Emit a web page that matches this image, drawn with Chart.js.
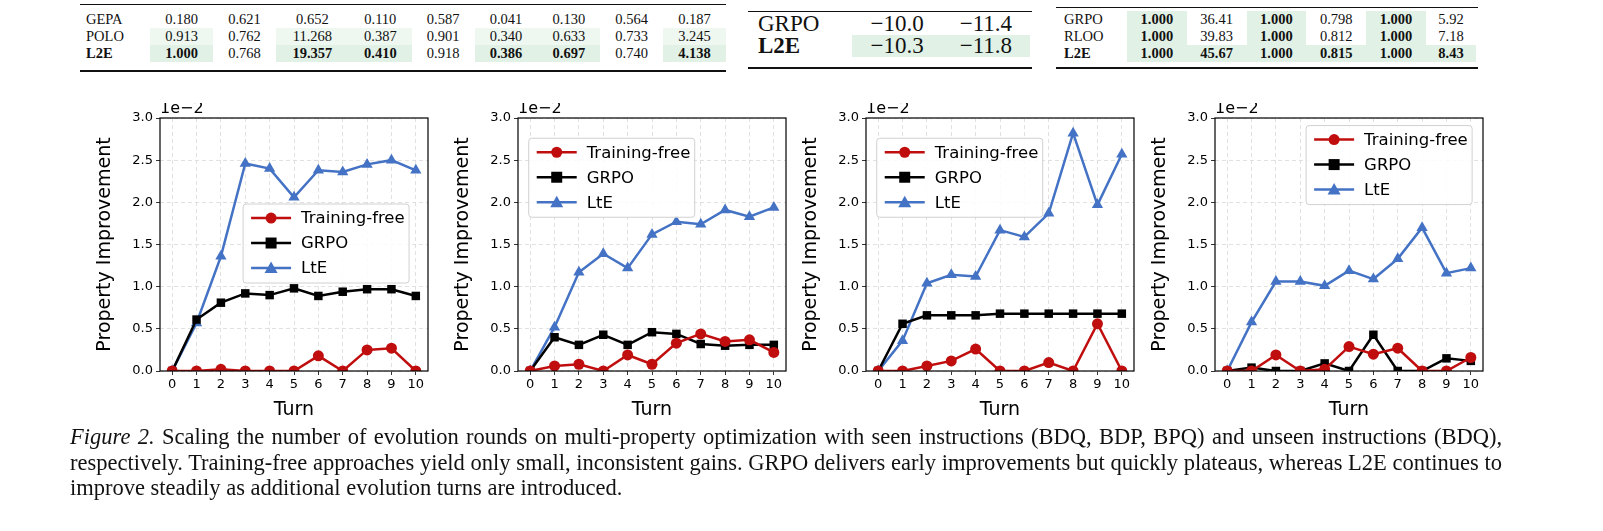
<!DOCTYPE html>
<html>
<head>
<meta charset="utf-8">
<script src="https://cdn.jsdelivr.net/npm/chart.js@4.4.1/dist/chart.umd.min.js"></script>
<style>
  body { margin:0; width:1603px; height:531px; background:#fff; position:relative; overflow:hidden; font-family:"Liberation Serif", serif; }
  .tbl { position:absolute; border-collapse:collapse; font-size:14.5px; color:#111; }
  .tbl td { padding:0 6px; text-align:center; line-height:17px; }
  .tbl td:first-child { text-align:left; }
  .hl { background:#e2f1e6; }
  .hl2 { background:#eef7f0; }
  .b { font-weight:bold; }
  .rule { position:absolute; background:#111; }
  .cv { position:absolute; }
  #caption { position:absolute; left:70px; top:424px; width:1432px; font-size:22.5px; line-height:25.5px; text-align:justify; color:#111; }
</style>
</head>
<body>
<!-- top tables (cropped from the page above) -->
<div class="rule" style="left:80px;top:4px;width:646px;height:1px"></div>
<table class="tbl" style="left:80px;top:11px;width:646px">
  <tr><td>GEPA</td><td>0.180</td><td>0.621</td><td>0.652</td><td>0.110</td><td>0.587</td><td>0.041</td><td>0.130</td><td>0.564</td><td>0.187</td></tr>
  <tr><td>POLO</td><td class="hl2">0.913</td><td>0.762</td><td class="hl2">11.268</td><td class="hl2">0.387</td><td>0.901</td><td class="hl2">0.340</td><td class="hl2">0.633</td><td>0.733</td><td class="hl2">3.245</td></tr>
  <tr><td class="b">L2E</td><td class="hl b">1.000</td><td>0.768</td><td class="hl b">19.357</td><td class="hl b">0.410</td><td>0.918</td><td class="hl b">0.386</td><td class="hl b">0.697</td><td>0.740</td><td class="hl b">4.138</td></tr>
</table>
<div class="rule" style="left:80px;top:70px;width:646px;height:2px"></div>

<div class="rule" style="left:748px;top:11px;width:284px;height:1px"></div>
<table class="tbl" style="left:752px;top:13px;width:278px;font-size:23px">
  <tr><td style="line-height:22px">GRPO</td><td style="line-height:22px">&minus;10.0</td><td style="line-height:22px">&minus;11.4</td></tr>
  <tr><td class="b" style="line-height:22px">L2E</td><td class="hl" style="line-height:22px">&minus;10.3</td><td class="hl" style="line-height:22px">&minus;11.8</td></tr>
</table>
<div class="rule" style="left:748px;top:67px;width:284px;height:2px"></div>

<div class="rule" style="left:1056px;top:7px;width:422px;height:1px"></div>
<table class="tbl" style="left:1058px;top:11px;width:418px">
  <tr><td>GRPO</td><td class="hl b">1.000</td><td>36.41</td><td class="hl b">1.000</td><td>0.798</td><td class="hl b">1.000</td><td>5.92</td></tr>
  <tr><td>RLOO</td><td class="hl b">1.000</td><td>39.83</td><td class="hl b">1.000</td><td>0.812</td><td class="hl b">1.000</td><td>7.18</td></tr>
  <tr><td class="b">L2E</td><td class="hl b">1.000</td><td class="hl b">45.67</td><td class="hl b">1.000</td><td class="hl b">0.815</td><td class="hl b">1.000</td><td class="hl b">8.43</td></tr>
</table>
<div class="rule" style="left:1056px;top:67px;width:422px;height:2px"></div>

<canvas id="c0" class="cv" style="left:90px;top:103px" width="345" height="322"></canvas>
<canvas id="c1" class="cv" style="left:448px;top:103px" width="345" height="322"></canvas>
<canvas id="c2" class="cv" style="left:796px;top:103px" width="345" height="322"></canvas>
<canvas id="c3" class="cv" style="left:1145px;top:103px" width="345" height="322"></canvas>

<div id="caption"><i>Figure 2.</i> Scaling the number of evolution rounds on multi-property optimization with seen instructions (BDQ, BDP, BPQ) and unseen instructions (BDQ), respectively. Training-free approaches yield only small, inconsistent gains. GRPO delivers early improvements but quickly plateaus, whereas L2E continues to improve steadily as additional evolution turns are introduced.</div>

<script>
// ─── Data (values in units of 1e-2) ────────────────────────
const turns = [0, 1, 2, 3, 4, 5, 6, 7, 8, 9, 10];
const yTicks = [0, 0.5, 1.0, 1.5, 2.0, 2.5, 3.0];

const trainingFree1 = [0, 0, 0.02, 0, 0, 0, 0.18, 0, 0.25, 0.27, 0];
const grpo1         = [0, 0.61, 0.81, 0.92, 0.90, 0.98, 0.89, 0.94, 0.97, 0.97, 0.89];
const lte1          = [0, 0.57, 1.36, 2.46, 2.40, 2.06, 2.38, 2.36, 2.45, 2.50, 2.38];

const trainingFree2 = [0, 0.06, 0.08, 0, 0.19, 0.08, 0.33, 0.44, 0.35, 0.37, 0.22];
const grpo2         = [0, 0.40, 0.31, 0.43, 0.31, 0.46, 0.44, 0.32, 0.30, 0.31, 0.31];
const lte2          = [0, 0.52, 1.17, 1.39, 1.22, 1.62, 1.77, 1.74, 1.91, 1.83, 1.94];

const trainingFree3 = [0, 0, 0.06, 0.12, 0.26, 0, 0, 0.10, 0, 0.56, 0];
const grpo3         = [0, 0.56, 0.66, 0.66, 0.66, 0.68, 0.68, 0.68, 0.68, 0.68, 0.68];
const lte3          = [0, 0.36, 1.04, 1.14, 1.12, 1.67, 1.59, 1.87, 2.82, 1.97, 2.57];

const trainingFree4 = [0, 0, 0.19, 0, 0.02, 0.29, 0.20, 0.27, 0, 0, 0.16];
const grpo4         = [0, 0.04, 0, 0, 0.09, 0, 0.43, 0, 0, 0.15, 0.12];
const lte4          = [0, 0.58, 1.06, 1.06, 1.01, 1.19, 1.09, 1.33, 1.70, 1.16, 1.22];

const seriesNames = ['Training-free', 'GRPO', 'LtE'];
const RED = '#c00e0e', BLACK = '#000000', BLUE = '#4472c4';
const FONT = 'DejaVu Sans';

// legend box as fractions of the plot area [x0, y0]
const legendPos = [[0.31, 0.34], [0.04, 0.08], [0.04, 0.08], [0.34, 0.03]];

// ─── Plugins: frame, offset label, inner legend ─────────────
const framePlugin = {
  id: 'frame',
  afterDraw(chart) {
    const { ctx, chartArea: a } = chart;
    ctx.save();
    ctx.strokeStyle = '#000';
    ctx.lineWidth = 1.2;
    ctx.strokeRect(a.left, a.top, a.right - a.left, a.bottom - a.top);
    ctx.fillStyle = '#000';
    ctx.font = `16px ${FONT}`;
    ctx.textBaseline = 'bottom';
    ctx.fillText('1e\u22122', a.left, a.top - 1);
    ctx.restore();
  },
};

function makeLegendPlugin(pos) {
  return {
    id: 'innerLegend',
    afterDraw(chart) {
      const { ctx, chartArea: a } = chart;
      const w = a.right - a.left, h = a.bottom - a.top;
      const x = a.left + pos[0] * w, y = a.top + pos[1] * h;
      const bw = 166, bh = 79;
      ctx.save();
      ctx.fillStyle = 'rgba(255,255,255,0.85)';
      ctx.strokeStyle = '#d0d0d0';
      ctx.lineWidth = 1;
      ctx.beginPath();
      ctx.roundRect(x, y, bw, bh, 3);
      ctx.fill(); ctx.stroke();
      ctx.font = `16.5px ${FONT}`;
      ctx.textBaseline = 'middle';
      chart.data.datasets.forEach((ds, i) => {
        const ly = y + 14 + i * 25;
        ctx.strokeStyle = ds.borderColor;
        ctx.lineWidth = 2.5;
        ctx.beginPath(); ctx.moveTo(x + 8, ly); ctx.lineTo(x + 48, ly); ctx.stroke();
        ctx.fillStyle = ds.borderColor;
        const cx = x + 28;
        ctx.beginPath();
        if (ds.pointStyle === 'circle') ctx.arc(cx, ly, 5.5, 0, Math.PI * 2);
        else if (ds.pointStyle === 'rect') ctx.rect(cx - 5.5, ly - 5.5, 11, 11);
        else { ctx.moveTo(cx, ly - 6.5); ctx.lineTo(cx + 6.5, ly + 5); ctx.lineTo(cx - 6.5, ly + 5); ctx.closePath(); }
        ctx.fill();
        ctx.fillStyle = '#000';
        ctx.fillText(ds.label, x + 58, ly + 1);
      });
      ctx.restore();
    },
  };
}

function dataset(label, data, color, style, radius) {
  return {
    label, data,
    borderColor: color, backgroundColor: color,
    borderWidth: 2.5,
    pointStyle: style, pointRadius: radius, pointHoverRadius: radius,
    pointBorderWidth: 0,
    tension: 0,
  };
}

function renderChart(id, tf, grpo, lte, legend) {
  new Chart(document.getElementById(id), {
    type: 'line',
    data: {
      labels: turns,
      datasets: [
        dataset(seriesNames[0], tf, RED, 'circle', 5.5),
        dataset(seriesNames[1], grpo, BLACK, 'rect', 6),
        dataset(seriesNames[2], lte, BLUE, 'triangle', 6.5),
      ],
    },
    options: {
      responsive: false,
      animation: false,
      layout: { padding: { top: 15, right: 7, left: 0, bottom: 0 } },
      plugins: { legend: { display: false }, tooltip: { enabled: false } },
      scales: {
        x: {
          type: 'linear', min: -0.5, max: 10.5,
          afterBuildTicks: ax => { ax.ticks = turns.map(v => ({ value: v })); },
          afterFit: ax => { ax.height = 54; },
          grid: { color: '#d9d9d9', lineWidth: 0.8, tickLength: 4, tickColor: '#000' },
          border: { display: false, dash: [4, 3] },
          ticks: { color: '#000', font: { size: 13, family: FONT }, padding: 2, maxRotation: 0 },
          title: { display: true, text: 'Turn', color: '#000', font: { size: 19, family: FONT }, padding: { top: 0 } },
        },
        y: {
          min: 0, max: 3.0,
          afterBuildTicks: ax => { ax.ticks = yTicks.map(v => ({ value: v })); },
          afterFit: ax => { ax.width = 70; },
          grid: { color: '#d9d9d9', lineWidth: 0.8, tickLength: 4, tickColor: '#000' },
          border: { display: false, dash: [4, 3] },
          ticks: { color: '#000', font: { size: 13, family: FONT }, padding: 3, callback: v => v.toFixed(1) },
          title: { display: true, text: 'Property Improvement', color: '#000', font: { size: 19, family: FONT }, padding: { bottom: 0 } },
        },
      },
    },
    plugins: [framePlugin, makeLegendPlugin(legend)],
  });
}

renderChart('c0', trainingFree1, grpo1, lte1, legendPos[0]);
renderChart('c1', trainingFree2, grpo2, lte2, legendPos[1]);
renderChart('c2', trainingFree3, grpo3, lte3, legendPos[2]);
renderChart('c3', trainingFree4, grpo4, lte4, legendPos[3]);
</script>
</body>
</html>
